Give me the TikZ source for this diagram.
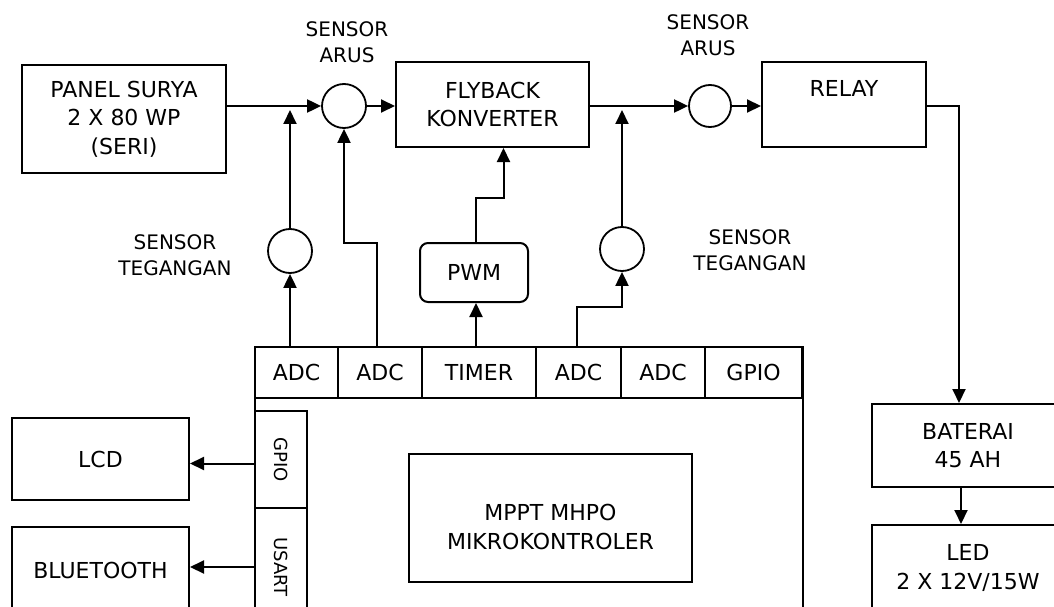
\documentclass[tikz,border=0pt]{standalone}
\usepackage{fontspec}
\setmainfont{DejaVu Sans}
\usetikzlibrary{positioning,arrows.meta}

\begin{document}
\begin{tikzpicture}[x=1pt,y=-1pt,
  every node/.style={font=\fontsize{22}{28.5}\selectfont},
  box/.style={draw,line width=2pt,inner sep=0pt,align=center},
  tab/.style={draw,line width=1.6pt,inner sep=0pt,minimum height=51pt},
  sens/.style={draw,circle,line width=1.8pt,minimum size=44pt,inner sep=0pt},
  lbl/.style={align=center,font=\fontsize{20}{26}\selectfont},
  side/.style={box,line width=1.6pt,minimum width=52pt,font=\fontsize{18}{22}\selectfont},
  arr/.style={line width=2pt,-{Triangle[length=14pt,width=13pt]}}]
  \clip (0,0) rectangle (1054,607);
  % power path
  \node[box,minimum width=204pt,minimum height=108pt] (panel) at (124,119) {PANEL SURYA\\2 X 80 WP\\(SERI)};
  \node[sens] (ia1) at (344,106) {};
  \node[lbl] (lia1) at (347,42) {SENSOR\\ARUS};
  \node[box,minimum width=193pt,minimum height=85pt] (fly) at (492.5,104.5) {FLYBACK\\KONVERTER};
  \node[sens,minimum size=42pt] (ia2) at (710,106) {};
  \node[lbl] (lia2) at (708,35) {SENSOR\\ARUS};
  \node[box,minimum width=164pt,minimum height=85pt] (relay) at (844,104.5) {};
  \node (relaytxt) at (844,88) {RELAY};
  \node[box,minimum width=192pt,minimum height=83pt] (bat) at (968,445.5) {BATERAI\\45 AH};
  \node[box,minimum width=192pt,minimum height=86pt] (led) at (968,568) {LED\\2 X 12V/15W};
  % voltage sensors and pwm
  \node[sens] (v1) at (290,251) {};
  \node[lbl] (lv1) at (175,255) {SENSOR\\TEGANGAN};
  \node[box,rounded corners=8pt,minimum width=108pt,minimum height=59pt] (pwm) at (474,272.5) {PWM};
  \node[sens] (v2) at (622,249) {};
  \node[lbl] (lv2) at (750,250) {SENSOR\\TEGANGAN};
  % microcontroller with its peripherals
  \node[box,minimum width=548pt,minimum height=268pt] (mcu) at (529,481) {};
  \foreach \n/\x/\w/\t in {1/296.5/83/ADC,2/380/84/ADC,3/479/114/TIMER,4/578.5/85/ADC,5/663/84/ADC,6/753.5/97/GPIO}
    \node[tab,minimum width=\w pt] (t\n) at (\x,372.5) {\t};
  \node[side,minimum height=97pt] (sgpio) at (281,459.5) {\rotatebox{-90}{GPIO}};
  \node[side,minimum height=118pt] (usart) at (281,567) {\rotatebox{-90}{USART}};
  \node[box,minimum width=283pt,minimum height=128pt] (mppt) at (550.5,518) {};
  \node[align=center] (mppttxt) at (550.5,527) {MPPT MHPO\\MIKROKONTROLER};
  \node[box,minimum width=177pt,minimum height=82pt] (lcd) at (100.5,459) {LCD};
  \node[box,minimum width=177pt,minimum height=86pt] (bt) at (100.5,570) {BLUETOOTH};
  % connectors
  \draw[arr] (panel.east |- ia1) -- (ia1);
  \draw[arr] (ia1) -- (ia1 -| fly.west);
  \draw[arr] (fly.east |- ia2) -- (ia2);
  \draw[arr] (ia2) -- (ia2 -| relay.west);
  \draw[arr] (relay.east |- ia2) -| ([xshift=-9pt]bat.north);
  \draw[arr] ([xshift=-7pt]bat.south) -- ([xshift=-7pt]led.north);
  \draw[arr] (v1 |- t1.north) -- (v1);
  \draw[arr,shorten >=4pt] (v1) -- (v1 |- ia1);
  \draw[arr] ([xshift=-3pt]t2.north) -- ++(0,-103) -| (ia1);
  \draw[arr] ([xshift=2pt]pwm.south |- t3.north) -- ([xshift=2pt]pwm.south);
  \draw[arr] ([xshift=2pt]pwm.north) -- ++(0,-44) -| ([xshift=11pt]fly.south);
  \draw[arr] ([xshift=-1.5pt]t4.north) -- ++(0,-39) -| (v2);
  \draw[arr,shorten >=4pt] (v2) -- (v2 |- ia2);
  \draw[arr] ([yshift=-4pt]sgpio.west) -- ([yshift=-4pt]sgpio.west -| lcd.east);
  \draw[arr] (usart.west) -- (usart.west -| bt.east);
\end{tikzpicture}
\end{document}
